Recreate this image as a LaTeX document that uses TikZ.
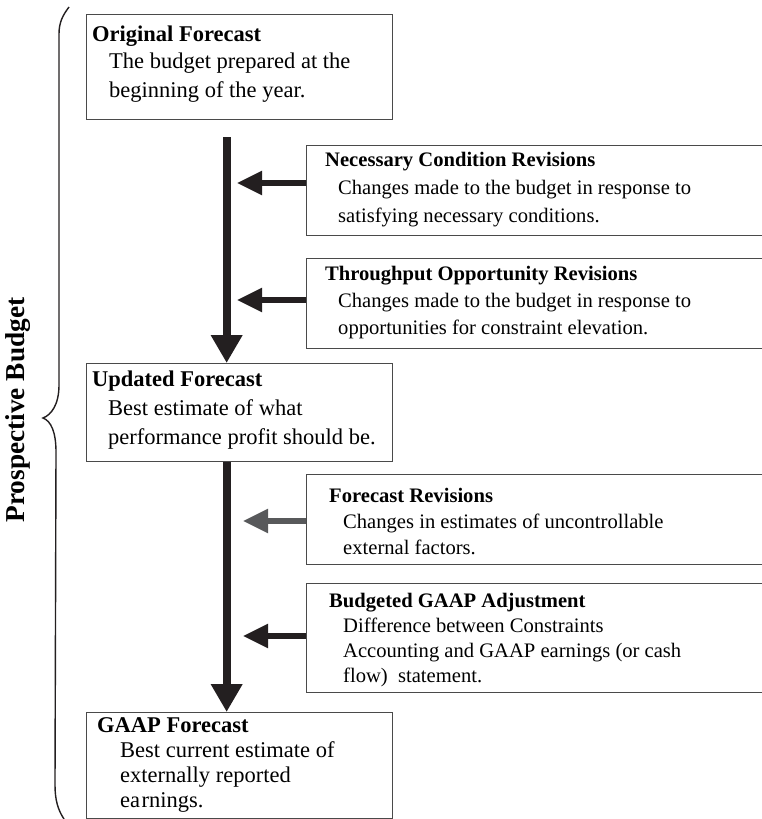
\documentclass[tikz,border=0pt]{standalone}
\usepackage{fontspec}
\setmainfont{Liberation Serif}
\usetikzlibrary{arrows.meta}

\definecolor{inkdark}{HTML}{231F20}
\definecolor{inkgray}{HTML}{58595B}
\definecolor{frame}{HTML}{4A4A4A}

\tikzset{
  box/.style={draw=frame, line width=1.3pt, rectangle, inner sep=0pt, anchor=north west},
  txt/.style={inner sep=0pt, anchor=base west, text=black},
  mainarrow/.style={draw=inkdark, line width=8pt, -{Triangle[length=28pt, width=30pt]}},
  sidearrow/.style={draw=inkdark, line width=5.5pt, -{Triangle[length=25pt, width=23pt]}},
}

% main text blocks: #1 size, #2 leading, #3 body indent, #4 title, #5 body lines
\newcommand{\blocktext}[5]{%
  \fontsize{#1}{#2}\selectfont
  \parbox[t]{420pt}{\textbf{#4}\par
  \def\ind{\hspace*{#3}}#5}}

\begin{document}
\begin{tikzpicture}[x=1pt, y=-1pt]
\useasboundingbox (0,0) rectangle (762,819);

% left-hand brace and its label
\draw[line width=1.4pt, draw=inkdark]
  (69,7) .. controls (63,15) and (59,22) .. (59,34) -- (59,385)
  .. controls (59,405) and (51,415) .. (43,418)
  .. controls (51,421) and (56,432) .. (56,452) -- (55,785)
  .. controls (55,800) and (58,810) .. (64,819);
\node[rotate=90, inner sep=0pt, font=\bfseries\fontsize{27.3}{30}\selectfont] (pb) at (18,410) {Prospective Budget};

% main column of forecasts
\node[box, minimum width=306pt, minimum height=105pt] (orig) at (86,14) {};
\node[box, minimum width=306pt, minimum height=98pt] (upd) at (86,363) {};
\node[box, minimum width=306pt, minimum height=106pt] (gaap) at (86,712) {};

\node[txt] (origtxt) at (92,41) {\blocktext{22.5}{28}{17pt}{Original Forecast}{%
  \ind The budget prepared at the\par\ind beginning of the year.}};
\node[txt] (updtxt) at (92,386) {\blocktext{22.5}{29}{16pt}{Updated Forecast}{%
  \ind Best estimate of what\par\ind performance profit should be.}};
\node[txt] (gaaptxt) at (97,732) {\blocktext{22.5}{25}{23pt}{GAAP Forecast}{%
  \ind Best current estimate of\par\ind externally reported\par\ind ea\kern1.5pt rnings.}};

% revision boxes on the right
\node[box, minimum width=460pt, minimum height=90pt] (nec) at (306,145) {};
\node[box, minimum width=460pt, minimum height=90pt] (thr) at (306,258) {};
\node[box, minimum width=460pt, minimum height=90pt] (frv) at (306,474) {};
\node[box, minimum width=460pt, minimum height=109pt] (bga) at (306,583) {};

\node[txt] (nectxt) at (325,166) {\blocktext{20.6}{28}{13pt}{Necessary Condition Revisions}{%
  \ind Changes made to the budget in response to\par\ind satisfying necessary conditions.}};
\node[txt] (thrtxt) at (325,280) {\blocktext{20.6}{27}{13pt}{Throughput Opportunity Revisions}{%
  \ind Changes made to the budget in response to\par\ind opportunities for constraint elevation.}};
\node[txt] (frvtxt) at (329,502) {\blocktext{20.6}{26}{14pt}{Forecast Revisions}{%
  \ind Changes in estimates of uncontrollable\par\ind external factors.}};
\node[txt] (bgatxt) at (329,607) {\blocktext{20.6}{25}{14pt}{Budgeted GAAP Adjustment}{%
  \ind Difference between Constraints\par\ind Accounting and GAAP earnings (or cash\par\ind flow)\ \ statement.}};

% flow arrows
\draw[mainarrow, shorten <=17pt] ([xshift=-13pt]orig.south) -- ([xshift=-13pt]upd.north);
\draw[mainarrow] ([xshift=-13pt]upd.south) -- ([xshift=-13pt]gaap.north);

\coordinate (tipnec) at (237,183);
\coordinate (tipthr) at (237,300);
\coordinate (tipfrv) at (243,521);
\coordinate (tipbga) at (243,636);
\draw[sidearrow] (nec.west |- tipnec) -- (tipnec);
\draw[sidearrow] (thr.west |- tipthr) -- (tipthr);
\draw[sidearrow, draw=inkgray] (frv.west |- tipfrv) -- (tipfrv);
\draw[sidearrow] (bga.west |- tipbga) -- (tipbga);
\end{tikzpicture}
\end{document}
